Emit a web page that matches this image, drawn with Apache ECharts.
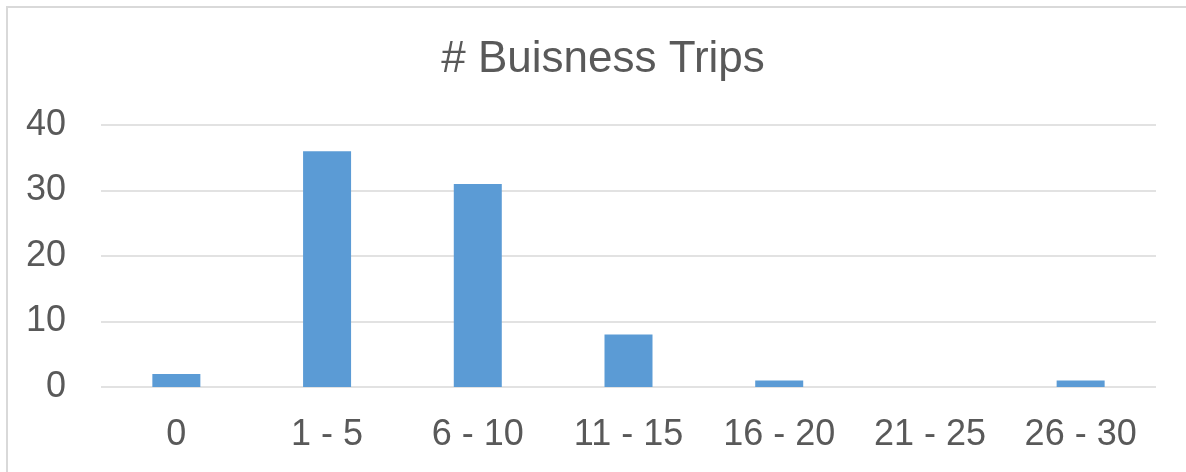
<!DOCTYPE html>
<html>
<head>
<meta charset="utf-8">
<script src="https://cdn.jsdelivr.net/npm/echarts@6/dist/echarts.min.js"></script>
<style>
html,body{margin:0;padding:0;background:#fff;}
#chart{width:1186px;height:472px;}
</style>
</head>
<body>
<div id="chart"></div>
<script>
const categories = ['0', '1 - 5', '6 - 10', '11 - 15', '16 - 20', '21 - 25', '26 - 30'];
const trips = [2, 36, 31, 8, 1, 0, 1];
const yTicks = { min: 0, max: 40, interval: 10 };
const titleText = '# Buisness Trips';

const chart = echarts.init(document.getElementById('chart'), null, { renderer: 'canvas' });
const font = '"Liberation Sans", Arial, Helvetica, sans-serif';
chart.setOption({
  animation: false,
  backgroundColor: '#ffffff',
  title: {
    text: titleText,
    left: 598, top: 33, textAlign: 'center',
    textStyle: { fontFamily: font, fontSize: 44, fontWeight: 'normal', color: '#595959' }
  },
  graphic: [{
    type: 'rect', silent: true, z: -1,
    shape: { x: 7, y: 7, width: 1250, height: 520 },
    style: { fill: 'none', stroke: '#d9d9d9', lineWidth: 2 }
  }],
  grid: { left: 101, right: 30, top: 125, bottom: 85, containLabel: false },
  xAxis: {
    type: 'category',
    data: categories,
    axisLine: { show: false },
    axisTick: { show: false },
    axisLabel: { fontFamily: font, fontSize: 36, color: '#595959', margin: 30 }
  },
  yAxis: {
    type: 'value',
    min: yTicks.min, max: yTicks.max, interval: yTicks.interval,
    axisLine: { show: false },
    axisTick: { show: false },
    splitLine: { lineStyle: { color: '#d9d9d9', width: 1.5 } },
    axisLabel: { fontFamily: font, fontSize: 36, color: '#595959', margin: 35 }
  },
  series: [{
    type: 'bar',
    data: trips,
    barWidth: 48,
    itemStyle: { color: '#5B9BD5' }
  }]
});
</script>
</body>
</html>
